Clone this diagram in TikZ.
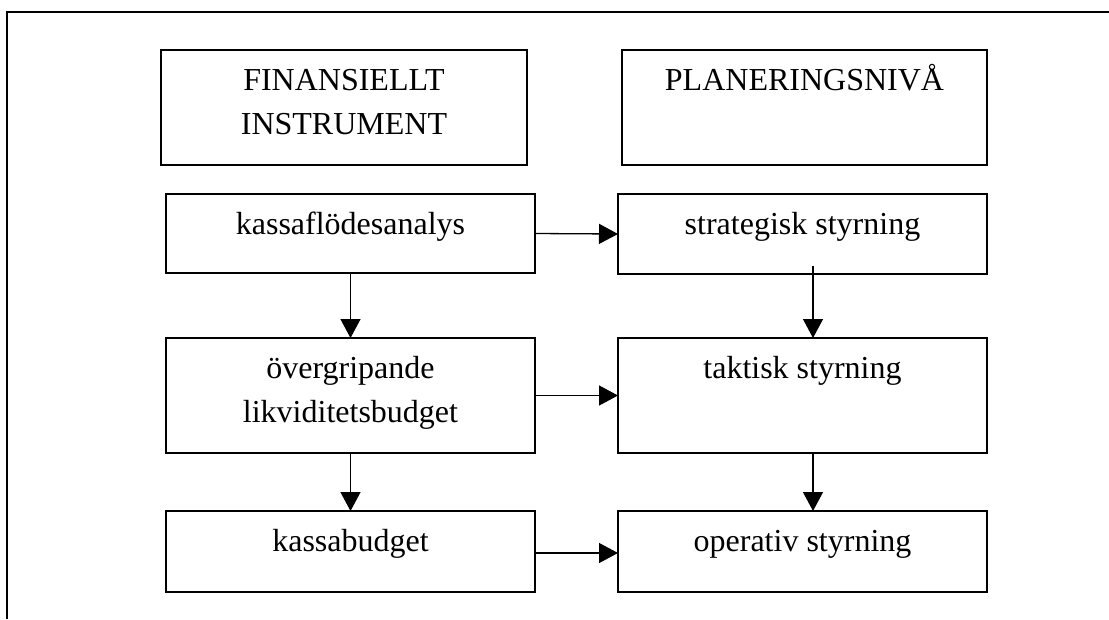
\documentclass[tikz,border=0pt]{standalone}
\usepackage{fontspec}
\setmainfont{Liberation Serif}
\usetikzlibrary{arrows.meta,calc}
\tikzset{
  box/.style={draw, line width=1.3pt, rectangle, inner sep=0pt, outer sep=0pt},
  txt/.style={anchor=base, inner sep=0pt, align=center, font=\fontsize{32}{44.5}\selectfont},
  conn/.style={line width=1.3pt, -{Triangle[length=19pt,width=20pt]}},
  frame/.style={line width=1.5pt}
}
\begin{document}
\begin{tikzpicture}[x=1pt,y=-1pt]
\useasboundingbox (0,0) rectangle (1109,619);
% outer frame (left and top only)
\draw[frame] (7,619) -- (7,12) -- (1109,12);
% boxes
\node[box, minimum width=366pt, minimum height=115pt] (fi) at (344,107.5) {};
\node[box, minimum width=365pt, minimum height=115pt] (pl) at (804.5,107.5) {};
\node[box, minimum width=369pt, minimum height=79pt] (kfa) at (350.5,233.5) {};
\node[box, minimum width=369pt, minimum height=80pt] (str) at (802.5,234) {};
\node[box, minimum width=369pt, minimum height=115pt] (ovg) at (350.5,395.5) {};
\node[box, minimum width=369pt, minimum height=115pt] (tak) at (802.5,395.5) {};
\node[box, minimum width=369pt, minimum height=81pt] (kab) at (350.5,551.5) {};
\node[box, minimum width=369pt, minimum height=81pt] (ope) at (802.5,551.5) {};
% texts (multi-line nodes: base = last line)
\node[txt] (tfi) at ($(fi.north)+(0,84.5)$) {FINANSIELLT\\INSTRUMENT};
\node[txt] (tpl) at ($(pl.north)+(0,40)$) {PLANERINGSNIVÅ};
\node[txt] (tkfa) at ($(kfa.north)+(0,40)$) {kassaflödesanalys};
\node[txt] (tstr) at ($(str.north)+(0,40)$) {strategisk styrning};
\node[txt] (tovg) at ($(ovg.north)+(0,84.5)$) {övergripande\\likviditetsbudget};
\node[txt] (ttak) at ($(tak.north)+(0,40)$) {taktisk styrning};
\node[txt] (tkab) at ($(kab.north)+(0,40)$) {kassabudget};
\node[txt] (tope) at ($(ope.north)+(0,40)$) {operativ styrning};
% connectors
\draw[conn] (kfa.east) -- (str.west);
\draw[conn] (ovg.east) -- (tak.west);
\draw[conn] ([yshift=-1.5pt]kab.east) -- ([yshift=-1.5pt]ope.west);
\draw[conn] (kfa.south) -- (ovg.north);
\draw[conn] (ovg.south) -- (kab.north);
\draw[conn] ([xshift=10.5pt,yshift=8pt]str.south) -- ([xshift=10.5pt]tak.north);
\draw[conn] ([xshift=10.5pt]tak.south) -- ([xshift=10.5pt]ope.north);
\end{tikzpicture}
\end{document}
